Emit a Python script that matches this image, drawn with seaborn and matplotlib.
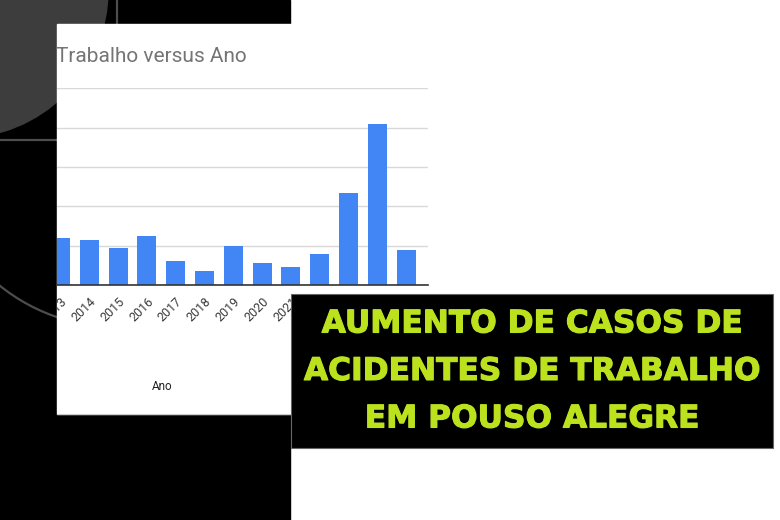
import matplotlib
matplotlib.use("Agg")
import matplotlib.pyplot as plt
import matplotlib.patheffects as pe
import seaborn as sns
from matplotlib.patches import Rectangle, Circle

# chart data (Google-Sheets style chart screenshot)
anos = ["2013", "2014", "2015", "2016", "2017", "2018", "2019",
        "2020", "2021", "2022", "2023", "2024", "2025"]
casos = [24, 23, 19, 25, 12, 7, 20, 11, 9, 16, 47, 82, 18]
grade_y = [0, 20, 40, 60, 80, 100]

titulo_grafico = "Trabalho versus Ano"
rotulo_x = "Ano"
manchete = ["AUMENTO DE CASOS DE", "ACIDENTES DE TRABALHO", "EM POUSO ALEGRE"]

W, H = 780, 520
fig = plt.figure(figsize=(W / 100, H / 100), dpi=100)
fig.patch.set_facecolor("white")


def px_axes(x0, y0, x1, y1, z):
    # axes placed with pixel coordinates (top-left origin)
    return fig.add_axes([x0 / W, 1 - y1 / H, (x1 - x0) / W, (y1 - y0) / H], zorder=z)


# background layer
bg = px_axes(0, 0, W, H, 0)
bg.set_xlim(0, W)
bg.set_ylim(H, 0)
bg.axis("off")
bg.add_patch(Rectangle((0, 0), 290, H, color="black", zorder=0))
bg.add_patch(Circle((-40, -10), 148, color="#3d3d3d", zorder=1))
anel = Circle((117, 140), 187, fill=False, edgecolor="#4d4d4d", lw=1.6, zorder=1)
bg.add_patch(anel)
anel.set_clip_path(Rectangle((0, 200), 57, 320, transform=bg.transData))
bg.plot([117, 117], [0, 200], color="#4d4d4d", lw=1.6, zorder=1)
bg.plot([0, 250], [140, 140], color="#4d4d4d", lw=1.6, zorder=1)
caixa = Rectangle((57, 24), 400, 390, color="white", zorder=3)
bg.add_patch(caixa)
bg.plot([57, 290], [414, 414], color="#cccccc", lw=0.8, zorder=4)
bg.text(56, 57, titulo_grafico, fontsize=15, color="#757575",
        family="Roboto", va="center", ha="left", zorder=5)
bg.text(162, 386, rotulo_x, fontsize=8.5, color="#222222",
        family="Roboto", va="center", ha="center", zorder=5)

# bar chart
ax = px_axes(57, 88.3, 428, 285, 1)
ax.patch.set_alpha(0)
sns.barplot(x=anos, y=casos, color="#4285F4", saturation=1, width=0.66, ax=ax)
ax.set_xlim(-0.12, 12.76)
ax.set_ylim(0, 100)
ax.set_yticks(grade_y)
ax.yaxis.grid(True, color="#d9d9d9", lw=1)
ax.set_axisbelow(True)
ax.tick_params(axis="y", length=0, labelleft=False)
ax.tick_params(axis="x", length=0, pad=7)
ax.set_xlabel("")
ax.set_ylabel("")
for s in ["top", "left", "right"]:
    ax.spines[s].set_visible(False)
ax.spines["bottom"].set_color("#333333")
ax.spines["bottom"].set_linewidth(1.2)
for lbl in ax.get_xticklabels():
    lbl.set_rotation(45)
    lbl.set_ha("right")
    lbl.set_rotation_mode("anchor")
    lbl.set_fontsize(9)
    lbl.set_family("Roboto")
    lbl.set_color("#3a3a3a")
    lbl.set_clip_on(True)
    lbl.set_clip_path(caixa)

# headline box on top
top = px_axes(0, 0, W, H, 2)
top.set_xlim(0, W)
top.set_ylim(H, 0)
top.axis("off")
top.patch.set_alpha(0)
top.add_patch(Rectangle((291, 294), 482, 154, facecolor="black",
                        edgecolor="#666666", lw=0.8))
for i, linha in enumerate(manchete):
    top.text(532, 324 + 47.5 * i, linha, fontsize=22.5, fontweight="bold",
             family="DejaVu Sans", color="#BCE21E", ha="center", va="center",
             path_effects=[pe.withStroke(linewidth=0.8, foreground="#BCE21E")])

fig.savefig("out.png", dpi=100)
